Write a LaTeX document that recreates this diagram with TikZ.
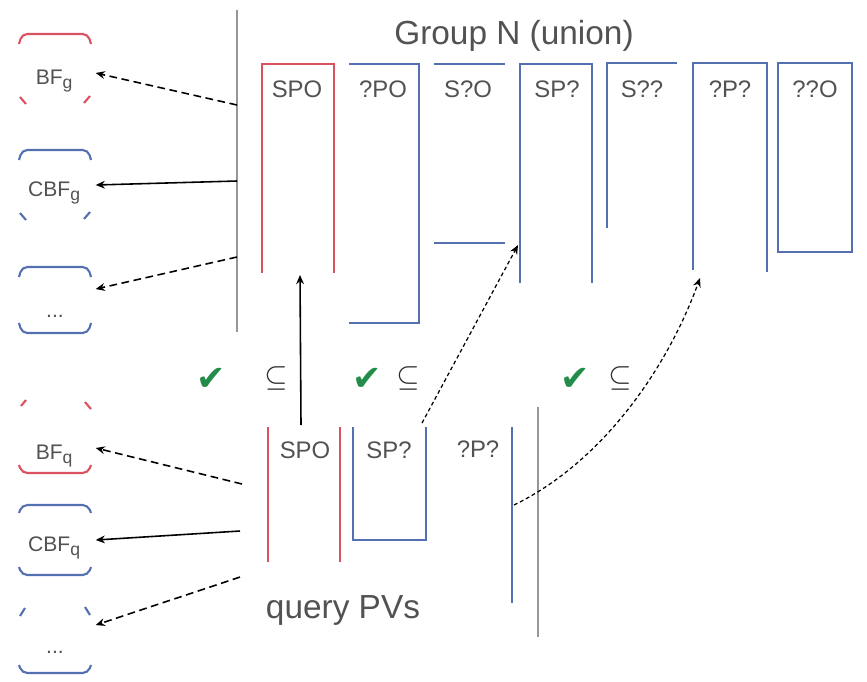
\documentclass[tikz,border=0pt]{standalone}
\usepackage{fontspec}
\setmainfont{Liberation Sans}
\newfontfamily\checkfont{DejaVu Sans}
\usetikzlibrary{arrows.meta}

\definecolor{pvred}{RGB}{218,82,96}
\definecolor{pvblue}{RGB}{84,112,176}
\definecolor{pvgray}{RGB}{150,150,150}
\definecolor{pvtext}{RGB}{82,82,82}
\definecolor{pvdark}{RGB}{45,45,45}
\definecolor{pvgreen}{RGB}{36,140,74}

\tikzset{
  redcol/.style={pvred, line width=0.6pt},
  bluecol/.style={pvblue, line width=0.6pt},
  sepline/.style={pvgray, line width=0.55pt},
  collbl/.style={text=pvtext, font=\fontsize{6.8}{8}\selectfont, inner sep=0pt},
  boxlbl/.style={text=pvtext, font=\fontsize{6}{7}\selectfont, inner sep=0pt,
    minimum width=0.8cm, text height=1.5ex, text depth=0.25ex},
  bigtxt/.style={text=pvtext, font=\fontsize{9.5}{11}\selectfont, inner sep=0pt},
  okmark/.style={text=pvgreen, font=\checkfont\fontsize{10}{12}\selectfont, inner sep=0pt},
  subsetmark/.style={text=pvdark, font=\fontsize{8.5}{9}\selectfont, inner sep=0pt},
  ptr/.style={-{Stealth[length=2.6pt, width=2.2pt]}, line width=0.45pt},
  dptr/.style={ptr, dash pattern=on 2.2pt off 1.3pt},
  fdptr/.style={ptr, line width=0.35pt, dash pattern=on 1.1pt off 0.8pt},
}

\begin{document}
\begin{tikzpicture}[x=1cm, y=1cm]
  \useasboundingbox (0,0) rectangle (8.67,-6.81);

  % group N
  \node[bigtxt] (grp) at (5.14,-0.36) {Group N (union)};
  \draw[sepline] (2.37,-0.10) -- (2.37,-3.32);
  \coordinate (gA) at (2.37,-1.05);
  \coordinate (gB) at (2.37,-1.81);
  \coordinate (gC) at (2.37,-2.57);

  \draw[redcol] (2.62,-2.73) |- (3.34,-0.64) -- (3.34,-2.73);
  \draw[bluecol] (3.49,-0.64) -| (4.19,-3.23) -- (3.49,-3.23);
  \draw[bluecol] (4.34,-0.64) -- (5.05,-0.64);
  \draw[bluecol] (4.34,-2.43) -- (5.05,-2.43);
  \draw[bluecol] (5.20,-2.83) |- (5.92,-0.64) -- (5.92,-2.83);
  \draw[bluecol] (6.07,-2.28) |- (6.77,-0.63);
  \draw[bluecol] (6.93,-2.70) |- (7.67,-0.63) -- (7.67,-2.72);
  \draw[bluecol] (7.78,-0.63) rectangle (8.52,-2.52);

  \node[collbl] (gSPO) at (2.97,-0.89) {SPO};
  \node[collbl] (gxPO) at (3.83,-0.89) {?PO};
  \node[collbl] (gSxO) at (4.68,-0.89) {S?O};
  \node[collbl] (gSPx) at (5.57,-0.89) {SP?};
  \node[collbl] (gSxx) at (6.42,-0.89) {S??};
  \node[collbl] (gxPx) at (7.30,-0.89) {?P?};
  \node[collbl] (gxxO) at (8.15,-0.89) {??O};

  \coordinate (gs1) at (3.00,-2.75);
  \coordinate (gs2) at (5.18,-2.45);
  \coordinate (gs3) at (7.00,-2.78);

  % filters of the group
  \node[boxlbl] (bfg) at (0.55,-0.73) {BF\textsubscript{g}};
  \node[boxlbl] (cbfg) at (0.55,-1.85) {CBF\textsubscript{g}};
  \node[boxlbl] (dotg) at (0.55,-3.06) {...};
  \draw[redcol, rounded corners=1.5pt] (0.19,-0.44) -- (0.22,-0.34) -- (0.88,-0.34) -- (0.91,-0.44);
  \draw[redcol] (0.20,-0.97) -- (0.26,-1.04);
  \draw[redcol] (0.90,-0.96) -- (0.84,-1.03);
  \draw[bluecol, rounded corners=1.5pt] (0.19,-1.60) -- (0.22,-1.50) -- (0.88,-1.50) -- (0.91,-1.60);
  \draw[bluecol] (0.20,-2.13) -- (0.26,-2.20);
  \draw[bluecol] (0.90,-2.12) -- (0.84,-2.19);
  \draw[bluecol, rounded corners=1.5pt] (0.19,-2.77) -- (0.22,-2.67) -- (0.88,-2.67) -- (0.91,-2.77);
  \draw[bluecol, rounded corners=1.5pt] (0.19,-3.23) -- (0.22,-3.33) -- (0.88,-3.33) -- (0.91,-3.23);

  \draw[dptr] (gA) -- (bfg.east);
  \draw[ptr] (gB) -- (cbfg.east);
  \draw[dptr] (gC) -- (dotg.north east);

  % checks
  \node[okmark] (ck1) at (2.11,-3.79) {✔};
  \node[subsetmark] (sub1) at (2.76,-3.78) {$\subseteq$};
  \node[okmark] (ck2) at (3.67,-3.79) {✔};
  \node[subsetmark] (sub2) at (4.08,-3.78) {$\subseteq$};
  \node[okmark] (ck3) at (5.75,-3.79) {✔};
  \node[subsetmark] (sub3) at (6.20,-3.78) {$\subseteq$};

  % query
  \draw[redcol] (2.68,-4.27) -- (2.68,-5.62);
  \draw[redcol] (3.40,-4.27) -- (3.40,-5.62);
  \draw[bluecol] (3.53,-4.27) |- (4.26,-5.40) -- (4.26,-4.27);
  \draw[bluecol] (5.12,-4.27) -- (5.12,-6.03);
  \draw[sepline] (5.38,-4.07) -- (5.38,-6.37);

  \node[collbl] (qSPO) at (3.05,-4.50) {SPO};
  \node[collbl] (qSPx) at (3.89,-4.50) {SP?};
  \node[collbl] (qxPx) at (4.78,-4.49) {?P?};
  \node[bigtxt] (qpv) at (3.43,-6.10) {query PVs};

  \coordinate (qs1) at (3.01,-4.25);
  \coordinate (qs2) at (4.22,-4.23);
  \coordinate (qs3) at (5.14,-5.05);
  \draw[ptr] (qs1) -- (gs1);
  \draw[fdptr] (qs2) -- (gs2);
  \draw[fdptr] (qs3) to[out=26, in=-110, looseness=0.85] (gs3);

  % filters of the query
  \node[boxlbl] (bfq) at (0.55,-4.48) {BF\textsubscript{q}};
  \node[boxlbl] (cbfq) at (0.55,-5.40) {CBF\textsubscript{q}};
  \node[boxlbl] (dotq) at (0.55,-6.42) {...};
  \draw[redcol] (0.21,-4.06) -- (0.26,-4.00);
  \draw[redcol] (0.85,-4.02) -- (0.91,-4.09);
  \draw[redcol, rounded corners=1.5pt] (0.19,-4.65) -- (0.22,-4.73) -- (0.88,-4.73) -- (0.91,-4.65);
  \draw[bluecol, rounded corners=1.5pt] (0.19,-5.13) -- (0.22,-5.05) -- (0.88,-5.05) -- (0.91,-5.13);
  \draw[bluecol, rounded corners=1.5pt] (0.19,-5.67) -- (0.22,-5.75) -- (0.88,-5.75) -- (0.91,-5.67);
  \draw[bluecol] (0.20,-6.16) -- (0.25,-6.08);
  \draw[bluecol] (0.85,-6.07) -- (0.90,-6.15);
  \draw[bluecol, rounded corners=1.5pt] (0.19,-6.65) -- (0.22,-6.73) -- (0.88,-6.73) -- (0.91,-6.65);

  \coordinate (qA) at (2.42,-4.84);
  \coordinate (qB) at (2.40,-5.31);
  \coordinate (qC) at (2.40,-5.77);
  \draw[dptr] (qA) -- (bfq.east);
  \draw[ptr] (qB) -- (cbfq.east);
  \draw[dptr] (qC) -- (dotq.north east);
\end{tikzpicture}
\end{document}
